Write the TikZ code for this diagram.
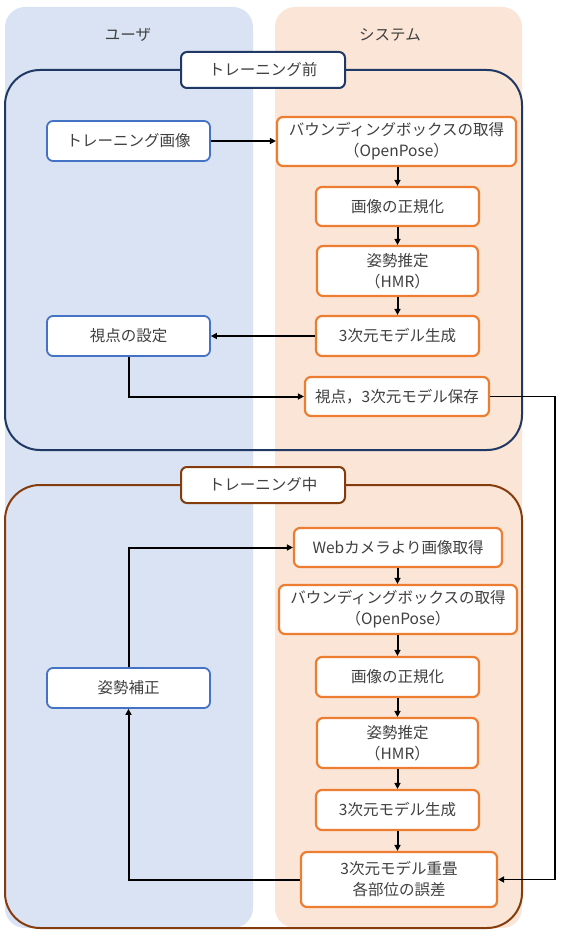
\documentclass[tikz,border=0pt]{standalone}
\usepackage{fontspec}
\setmainfont{Noto Sans CJK JP}
\usetikzlibrary{arrows.meta}
\definecolor{laneU}{HTML}{DAE3F3}
\definecolor{laneS}{HTML}{FBE5D6}
\definecolor{navyb}{HTML}{203864}
\definecolor{brownb}{HTML}{843C0C}
\definecolor{blueb}{HTML}{4472C4}
\definecolor{orangeb}{HTML}{ED7D31}
\definecolor{txt}{HTML}{404040}
\begin{document}
\begin{tikzpicture}[x=1pt,y=-1pt,
  font=\fontsize{15.5}{21}\selectfont,
  ubox/.style={draw=blueb, line width=1.8pt, fill=white, rounded corners=6pt, minimum width=163pt, minimum height=40pt, inner sep=0pt, align=center, text=txt},
  sbox/.style={draw=orangeb, line width=2.2pt, fill=white, rounded corners=6pt, minimum width=163pt, minimum height=40pt, inner sep=0pt, align=center, text=txt},
  lbl/.style={line width=2pt, fill=white, rounded corners=6pt, minimum width=164pt, minimum height=36pt, inner sep=0pt, text=txt},
  arr/.style={draw=black, line width=2pt, -{Triangle[length=6pt,width=6pt]}},
  hdr/.style={text=txt}
]
\useasboundingbox (0,0) rectangle (563,944);
% lanes
\fill[laneU, rounded corners=20pt] (5,7) rectangle (253,928);
\fill[laneS, rounded corners=20pt] (275,7) rectangle (522,928);
\node[hdr] (hu) at (128,35) {ユーザ};
\node[hdr] (hs) at (390,35) {システム};
% groups
\draw[navyb, line width=2pt, rounded corners=35pt] (5,70) rectangle (522,450);
\draw[brownb, line width=2pt, rounded corners=35pt] (5,485) rectangle (522,928);
\node[lbl, draw=navyb] (l1) at (263,70) {トレーニング前};
\node[lbl, draw=brownb] (l2) at (263,485) {トレーニング中};
% group 1 nodes
\node[ubox] (trimg) at (128.5,141) {トレーニング画像};
\node[sbox, minimum width=239pt, minimum height=49pt] (bb1) at (396.5,141.5) {バウンディングボックスの取得\\（OpenPose）};
\node[sbox, minimum height=39pt] (norm1) at (397.5,206.5) {画像の正規化};
\node[sbox, minimum width=161pt, minimum height=50pt] (hmr1) at (397.5,271) {姿勢推定\\（HMR）};
\node[sbox] (gen1) at (397.5,336) {3次元モデル生成};
\node[ubox] (view) at (128.5,336) {視点の設定};
\node[sbox, minimum width=184pt, minimum height=39pt] (save) at (397,396.5) {視点，3次元モデル保存};
% group 2 nodes
\node[sbox, minimum width=208pt, minimum height=39pt] (web) at (398,547.5) {Webカメラより画像取得};
\node[sbox, minimum width=238pt, minimum height=49pt] (bb2) at (398,609.5) {バウンディングボックスの取得\\（OpenPose）};
\node[sbox] (norm2) at (397.5,677) {画像の正規化};
\node[sbox, minimum width=161pt, minimum height=50pt] (hmr2) at (397.5,743) {姿勢推定\\（HMR）};
\node[sbox] (gen2) at (397.5,810) {3次元モデル生成};
\node[sbox, minimum width=196pt, minimum height=55pt] (over) at (399,879.5) {3次元モデル重畳\\各部位の誤差};
\node[ubox] (corr) at (128.5,688) {姿勢補正};
\coordinate (r1) at (555,396.5);
% arrows
\draw[arr] (trimg.east) -- (bb1.west|-trimg.east);
\draw[arr] (bb1.south-|norm1.north) -- (norm1.north);
\draw[arr] (norm1.south) -- (hmr1.north);
\draw[arr] (hmr1.south) -- (gen1.north);
\draw[arr] (gen1.west) -- (view.east);
\draw[arr] (view.south) |- (save.west);
\draw[arr, line width=1.6pt] (save.east) -- (r1) |- (over.east);
\draw[arr] (web.south-|norm2.north) -- (bb2.north-|norm2.north);
\draw[arr] (bb2.south-|norm2.north) -- (norm2.north);
\draw[arr] (norm2.south) -- (hmr2.north);
\draw[arr] (hmr2.south) -- (gen2.north);
\draw[arr] (gen2.south) -- (over.north-|gen2.south);
\draw[arr] (over.west) -| (corr.south);
\draw[arr] (corr.north) |- (web.west);
\end{tikzpicture}
\end{document}
